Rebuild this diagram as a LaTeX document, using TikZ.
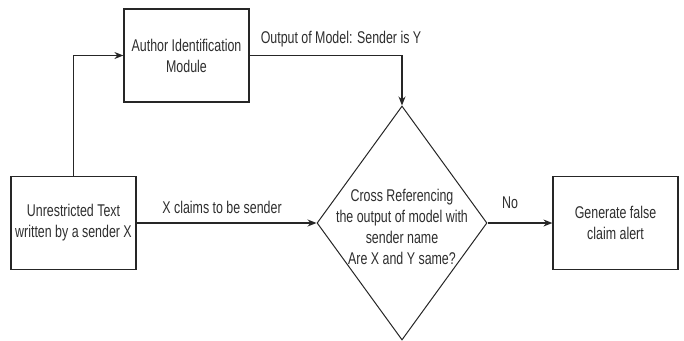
\documentclass[tikz,border=0pt]{standalone}
\usepackage{fontspec}
\setmainfont{Liberation Sans}[FakeStretch=0.73]
\usetikzlibrary{arrows.meta,shapes.geometric}
\begin{document}
\begin{tikzpicture}[x=1pt,y=-1pt,
  every node/.style={text=black!82},
  txt/.style={font=\fontsize{17}{21}\selectfont},
  box/.style={txt, draw=black!85, line width=1.2pt, minimum width=125pt, minimum height=93pt, inner sep=0pt, align=center},
  dia/.style={draw=black!85, line width=1pt, diamond, minimum width=170pt, minimum height=234pt, inner sep=0pt},
  lbl/.style={txt, inner sep=0pt},
  conn/.style={draw=black!85, line width=1.2pt, -{Stealth[length=9pt,width=7pt]}}]
\useasboundingbox (0,0) rectangle (684,340);
\node[box] (author) at (186.5,55.5) {Author Identification\\Module};
\node[box] (unres) at (73.5,223) {Unrestricted Text\\written by a sender X};
\node[dia] (dec) at (402,223) {};
\node[lbl, align=center] (dectext) at (402,227) {Cross Referencing\\the output of model with\\sender name\\Are X and Y same?};
\node[box] (gen) at (615.5,223) {Generate false\\claim alert};
\draw[conn] (unres.north) |- (author.west);
\draw[conn] (author.east) -| (dec.north);
\draw[conn] (unres.east) -- (dec.west);
\draw[conn] (dec.east) -- (gen.west);
\node[lbl] (outlbl) at (341,39) {Output of Model: Sender is Y};
\node[lbl] (xlbl) at (222,207) {X claims to be sender};
\node[lbl] (nolbl) at (510,203) {No};
\end{tikzpicture}
\end{document}
